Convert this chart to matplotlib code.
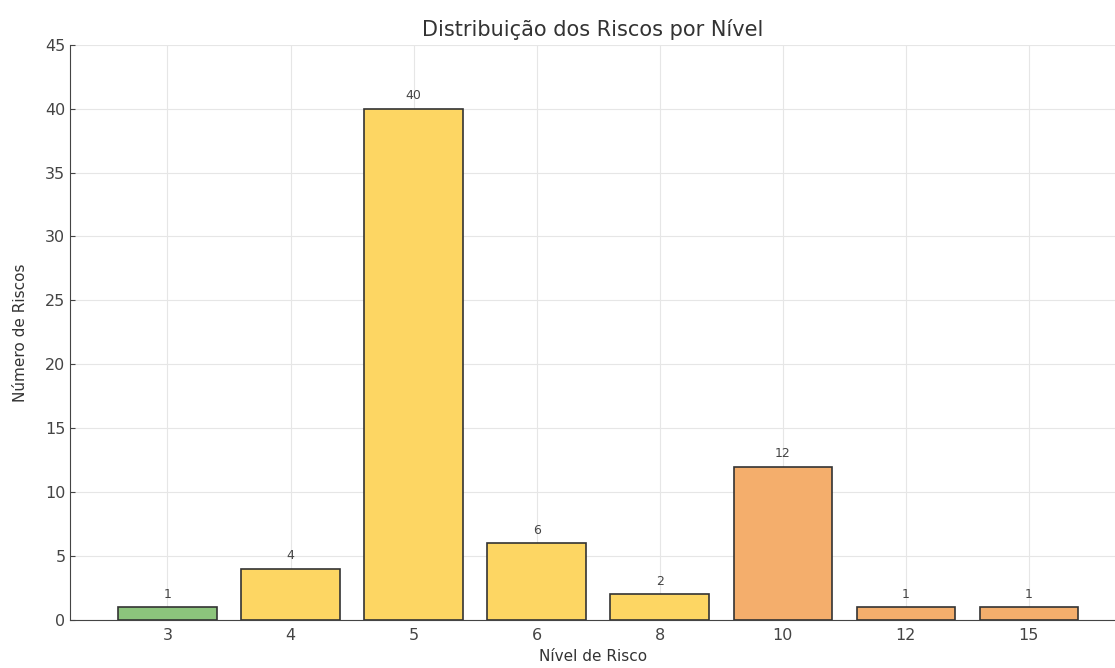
import matplotlib.pyplot as plt

niveis = ['3', '4', '5', '6', '8', '10', '12', '15']
contagens = [1, 4, 40, 6, 2, 12, 1, 1]
cores = ['#8cc47c', '#fdd663', '#fdd663', '#fdd663', '#fdd663',
         '#f4ae6c', '#f4ae6c', '#f4ae6c']

fig = plt.figure(figsize=(11.15, 6.68), dpi=100)
ax = fig.add_axes([0.063, 0.072, 0.937, 0.861])

x = range(len(niveis))
bars = ax.bar(x, contagens, width=0.8, color=cores, edgecolor='#333333', linewidth=1.2, zorder=3)
for b, v in zip(bars, contagens):
    ax.text(b.get_x() + b.get_width() / 2, v + 0.5, str(v), ha='center', va='bottom',
            fontsize=9, color='#444444')

ax.set_xticks(list(x))
ax.set_xticklabels(niveis)
ax.set_xlim(-0.79, 7.7)
ax.set_ylim(0, 45)
ax.set_yticks(range(0, 46, 5))
ax.grid(True, color='#e6e6e6', linewidth=0.8, zorder=0)
ax.tick_params(direction='in', labelsize=11.5, colors='#444444', labelcolor='#444444')
ax.tick_params(axis='x', pad=6)
for s in ['top', 'right']:
    ax.spines[s].set_visible(False)
for s in ['left', 'bottom']:
    ax.spines[s].set_color('#444444')

ax.set_title('Distribuição dos Riscos por Nível', fontsize=15, color='#333333', pad=6)
ax.set_xlabel('Nível de Risco', fontsize=11, color='#333333', labelpad=4)
ax.set_ylabel('Número de Riscos', fontsize=11, color='#333333', labelpad=12)

plt.savefig('out.png', dpi=100)
